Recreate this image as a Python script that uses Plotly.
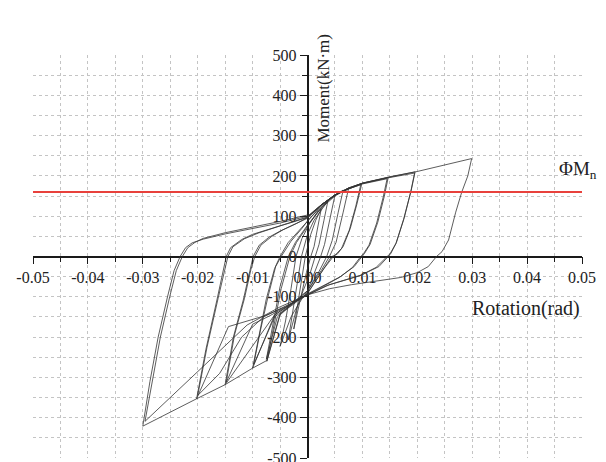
import plotly.graph_objects as go

# ---- tick labels ----
x_ticks = [-0.05, -0.04, -0.03, -0.02, -0.01, 0.0, 0.01, 0.02, 0.03, 0.04, 0.05]
x_tick_text = ["-0.05", "-0.04", "-0.03", "-0.02", "-0.01", "0.00", "0.01", "0.02", "0.03", "0.04", "0.05"]
y_ticks = [-500, -400, -300, -200, -100, 0, 100, 200, 300, 400, 500]
y_tick_text = ["-500", "-400", "-300", "-200", "-100", "0", "100", "200", "300", "400", "500"]

phi_mn = 160  # kN·m

# ---- hysteresis loops (rotation rad, moment kN·m) ----
rot_c1 = [-0.0025, -0.0018, -0.0010, -0.0004, 0.0006, 0.0015, 0.0025, 0.0020, 0.0012, 0.0006, -0.0002, -0.0012, -0.0025]
mom_c1 = [-180, -120, -55, 0, 55, 90, 118, 80, 25, 0, -40, -100, -180]

rot_c2 = [-0.0035, -0.0027, -0.0018, -0.0011, 0.0000, 0.0012, 0.0025, 0.0037, 0.0030, 0.0021, 0.0014, 0.0004, -0.0008, -0.0020, -0.0035]
mom_c2 = [-207, -140, -60, 0, 55, 90, 115, 137, 90, 30, 0, -45, -85, -130, -207]

rot_c3 = [-0.0050, -0.0040, -0.0030, -0.0021, -0.0010, 0.0005, 0.0020, 0.0035, 0.0050, 0.0041, 0.0031, 0.0024, 0.0012, 0.0000, -0.0015, -0.0030, -0.0050]
mom_c3 = [-223, -160, -80, 0, 45, 85, 115, 135, 152, 95, 30, 0, -45, -85, -115, -150, -223]

rot_c4 = [-0.0074, -0.0062, -0.0048, -0.0032, -0.0020, 0.0000, 0.0020, 0.0040, 0.0065, 0.0056, 0.0045, 0.0035, 0.0020, 0.0000, -0.0025, -0.0050, -0.0074]
mom_c4 = [-260, -180, -80, 0, 35, 75, 112, 142, 165, 110, 40, 0, -40, -85, -115, -145, -260]

rot_c5 = [-0.0075, -0.0064, -0.0050, -0.0035, -0.0022, 0.0000, 0.0025, 0.0050, 0.0075, 0.0065, 0.0052, 0.0040, 0.0025, 0.0000, -0.0030, -0.0055, -0.0075]
mom_c5 = [-255, -175, -75, 0, 35, 78, 120, 150, 170, 110, 35, 0, -35, -85, -118, -150, -255]

rot_c6 = [-0.0100, -0.0088, -0.0075, -0.0060, -0.0050, -0.0035, -0.0015, 0.0000, 0.0025, 0.0050, 0.0075, 0.0099,
          0.0090, 0.0078, 0.0065, 0.0055, 0.0047, 0.0030, 0.0010, 0.0000, -0.0025, -0.0050, -0.0074, -0.0100]
mom_c6 = [-277, -190, -105, -30, 0, 35, 65, 85, 125, 152, 170, 181,
          130, 70, 25, 7, 0, -30, -70, -90, -118, -142, -258, -277]

rot_c7 = [-0.0098, -0.0086, -0.0072, -0.0058, -0.0048, -0.0030, -0.0010, 0.0000, 0.0025, 0.0050, 0.0075, 0.0097,
          0.0088, 0.0076, 0.0062, 0.0050, 0.0044, 0.0028, 0.0010, 0.0000, -0.0030, -0.0060, -0.0098]
mom_c7 = [-268, -185, -100, -25, 0, 38, 70, 88, 127, 153, 168, 178,
          125, 65, 20, 3, 0, -33, -72, -92, -120, -150, -268]

rot_c8 = [-0.0150, -0.0135, -0.0117, -0.0105, -0.0099, -0.0088, -0.0070, -0.0050, -0.0025, 0.0000, 0.0025, 0.0050, 0.0075, 0.0100, 0.0147,
          0.0140, 0.0128, 0.0114, 0.0104, 0.0099, 0.0085, 0.0060, 0.0030, 0.0000, -0.0030, -0.0060, -0.0100, -0.0150]
mom_c8 = [-318, -200, -108, -35, 0, 28, 48, 63, 78, 95, 128, 153, 170, 182, 196,
          150, 85, 30, 8, 0, -25, -50, -72, -93, -118, -145, -277, -318]

rot_c9 = [-0.0148, -0.0133, -0.0115, -0.0103, -0.0096, -0.0085, -0.0065, -0.0045, -0.0020, 0.0000, 0.0025, 0.0050, 0.0075, 0.0100, 0.0145,
          0.0138, 0.0126, 0.0112, 0.0102, 0.0097, 0.0082, 0.0058, 0.0030, 0.0000, -0.0035, -0.0070, -0.0100, -0.0148]
mom_c9 = [-312, -195, -105, -32, 0, 28, 50, 66, 82, 97, 128, 152, 168, 180, 193,
          148, 83, 28, 7, 0, -27, -52, -73, -94, -122, -148, -168, -312]

rot_c10 = [-0.0202, -0.0185, -0.0165, -0.0155, -0.0148, -0.0140, -0.0120, -0.0100, -0.0075, -0.0050, -0.0025, 0.0000,
           0.0025, 0.0050, 0.0075, 0.0100, 0.0150, 0.0196,
           0.0189, 0.0176, 0.0162, 0.0152, 0.0147, 0.0130, 0.0100, 0.0070, 0.0040, 0.0000, -0.0030, -0.0060, -0.0150, -0.0202]
mom_c10 = [-353, -230, -108, -40, 0, 22, 42, 55, 66, 76, 86, 97,
           128, 153, 170, 182, 197, 210,
           165, 95, 35, 8, 0, -25, -45, -58, -70, -95, -118, -145, -318, -353]

rot_c11 = [-0.0200, -0.0183, -0.0163, -0.0152, -0.0145, -0.0136, -0.0115, -0.0090, -0.0060, -0.0030, 0.0000,
           0.0025, 0.0050, 0.0075, 0.0100, 0.0150, 0.0195,
           0.0188, 0.0175, 0.0161, 0.0150, 0.0145, 0.0125, 0.0095, 0.0065, 0.0035, 0.0000, -0.0040, -0.0080, -0.0120, -0.0160, -0.0200]
mom_c11 = [-345, -225, -105, -38, 0, 24, 44, 58, 72, 85, 98,
           128, 152, 169, 181, 196, 207,
           160, 92, 32, 6, 0, -27, -48, -60, -72, -96, -124, -150, -200, -290, -345]

rot_c12 = [0.0000, -0.0040, -0.0080, -0.0144, -0.0202, -0.0300,
           -0.0287, -0.0272, -0.0255, -0.0243, -0.0232, -0.0222, -0.0210, -0.0190, -0.0150, -0.0100, -0.0050, 0.0000,
           0.0025, 0.0050, 0.0100, 0.0150, 0.0200, 0.0299,
           0.0292, 0.0281, 0.0270, 0.0257, 0.0245, 0.0235, 0.0220, 0.0200, 0.0170, 0.0120, 0.0080, 0.0040, 0.0000,
           -0.0050, -0.0110, -0.0296]
mom_c12 = [-95, -125, -148, -174, -353, -421,
           -310, -200, -100, -35, 0, 22, 34, 43, 56, 69, 83, 100,
           128, 153, 182, 198, 211, 243,
           200, 160, 110, 41, 12, 0, -25, -40, -52, -62, -70, -80, -95,
           -125, -170, -409]

rot_c13 = [-0.0296, -0.0283, -0.0268, -0.0251, -0.0239, -0.0228, -0.0218, -0.0205, -0.0190, -0.0150, -0.0100, -0.0050, 0.0000]
mom_c13 = [-409, -310, -200, -100, -35, 0, 22, 35, 45, 59, 73, 87, 103]

loops = [(rot_c1, mom_c1), (rot_c2, mom_c2), (rot_c3, mom_c3), (rot_c4, mom_c4),
         (rot_c5, mom_c5), (rot_c6, mom_c6), (rot_c7, mom_c7), (rot_c8, mom_c8),
         (rot_c9, mom_c9), (rot_c10, mom_c10), (rot_c11, mom_c11), (rot_c12, mom_c12),
         (rot_c13, mom_c13)]

fig = go.Figure()
for rx, my in loops:
    fig.add_trace(go.Scatter(x=rx, y=my, mode="lines",
                             line=dict(color="#333333", width=0.8),
                             hoverinfo="skip", showlegend=False))

fig.add_hline(y=phi_mn, line=dict(color="#e8413c", width=2))

serif = "Liberation Serif, Times New Roman, serif"
grid_col = "#c4c4c4"
axis_col = "#1a1a1a"

# the page body adds an 8px offset, so the figure is sized to end at the window edge
fig.update_layout(
    width=598, height=454,
    margin=dict(l=25, r=24, t=47, b=4, autoexpand=False),
    paper_bgcolor="white", plot_bgcolor="white",
    showlegend=False,
    xaxis=dict(
        range=[-0.05, 0.05], anchor="free", position=0.5, automargin=False,
        showline=True, linecolor=axis_col, linewidth=1.5,
        ticks="outside", ticklen=7, tickwidth=1.2, tickcolor=axis_col,
        tickmode="array", tickvals=x_ticks, ticktext=x_tick_text,
        tickfont=dict(family=serif, size=16, color="#222"),
        ticklabeloverflow="allow",
        showgrid=True, gridcolor=grid_col, griddash="dot", gridwidth=1,
        zeroline=False, layer="below traces",
        minor=dict(ticks="outside", ticklen=5, tickwidth=1, tickcolor=axis_col,
                   tickmode="linear", tick0=0, dtick=0.005,
                   showgrid=True, gridcolor=grid_col, griddash="dot", gridwidth=1),
    ),
    yaxis=dict(
        range=[-500, 500], anchor="free", position=0.5, automargin=False,
        showline=True, linecolor=axis_col, linewidth=1.5,
        ticks="outside", ticklen=7, tickwidth=1.2, tickcolor=axis_col,
        tickmode="array", tickvals=y_ticks, ticktext=y_tick_text,
        tickfont=dict(family=serif, size=16, color="#222"),
        ticklabeloverflow="allow",
        showgrid=True, gridcolor=grid_col, griddash="dot", gridwidth=1,
        zeroline=False, layer="below traces",
        minor=dict(ticks="outside", ticklen=5, tickwidth=1, tickcolor=axis_col,
                   tickmode="linear", tick0=0, dtick=50,
                   showgrid=True, gridcolor=grid_col, griddash="dot", gridwidth=1),
    ),
    annotations=[
        dict(text="Rotation(rad)", x=0.05, y=-128, xref="x", yref="y",
             xanchor="right", yanchor="middle", showarrow=False,
             font=dict(family=serif, size=20, color="#222")),
        dict(text="Moment(kN·m)", x=0.003, y=419, xref="x", yref="y",
             xanchor="center", yanchor="middle", textangle=-90, showarrow=False,
             font=dict(family=serif, size=17, color="#222")),
        dict(text="ΦM<sub>n</sub>", x=0.0455, y=215, xref="x", yref="y",
             xanchor="left", yanchor="middle", showarrow=False,
             font=dict(family=serif, size=19, color="#222")),
    ],
)

fig.write_html("out.html")
